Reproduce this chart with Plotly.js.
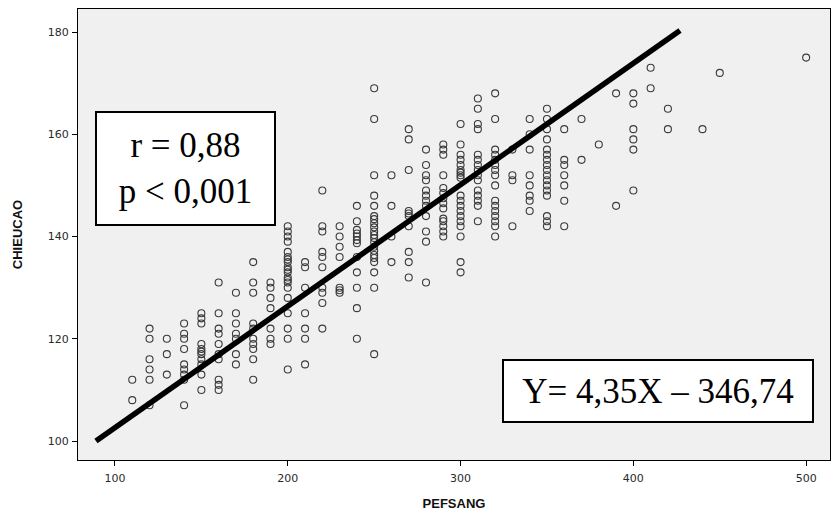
<!DOCTYPE html>
<html>
<head>
<meta charset="utf-8">
<script src="https://cdn.plot.ly/plotly-3.0.1.min.js"></script>
<style>
  html, body { margin: 0; padding: 0; background: #ffffff; }
  #chart { width: 833px; height: 513px; }
</style>
</head>
<body>
<div id="chart"></div>
<script>
// PEF columns (x) and the CHIEUCAO values read at each column
const pefLevels = [110, 120, 130, 140, 150, 160, 170, 180, 190, 200, 210, 220, 230, 240, 250, 260, 270, 280, 290, 300, 310, 320, 330, 340, 350, 360, 370, 380, 390, 400, 410, 420, 440, 450, 500];
const heightsByPef = [
  [112, 108],
  [122, 120, 116, 114, 112, 107],
  [120, 117, 113],
  [123, 121, 120, 118, 115, 114, 113, 112, 107],
  [125, 124, 123, 119, 118, 117.5, 117, 116, 115, 113, 110],
  [131, 125, 122, 121, 119, 117, 116, 112, 111, 110],
  [129, 125, 123, 121, 120, 117, 115],
  [135, 131, 129, 123, 122, 120, 119, 118, 116, 112],
  [131, 130, 128, 126, 122, 120, 119],
  [142, 141, 140, 139, 137, 136, 135.5, 135, 134, 133.5, 133, 132, 131.5, 131, 130, 128, 125, 122, 120, 114],
  [135, 134, 130, 125, 122, 120, 115],
  [149, 142, 141, 137, 136, 134, 130, 129, 127, 122],
  [142, 140, 138, 136, 130, 129.5, 129],
  [146, 143, 141.3, 140.6, 140, 139.3, 138.7, 136, 133, 130, 126, 120],
  [169, 163, 152, 148, 146, 144, 143.4, 142.6, 141.8, 141, 140.3, 139.7, 138.9, 138, 137.2, 136.4, 135.8, 135, 133, 130, 117],
  [152, 146, 140, 135],
  [161, 159, 153, 145, 144.5, 144, 142, 137, 135, 132],
  [157, 154, 152, 151, 149, 148, 147, 146, 144, 141, 139, 131],
  [158, 157, 156, 152, 149.5, 148.5, 147.5, 146.5, 145.5, 143.5, 143, 142, 141, 140],
  [162, 158, 156, 155, 154, 153, 152.5, 152, 151.5, 148, 147, 146, 145, 144, 143, 142, 140, 135, 133],
  [167, 165, 162, 161, 156, 155, 154, 153, 152, 151, 149, 148, 147, 146, 143],
  [168, 163, 157, 156, 155, 154, 153, 152, 150, 147, 146, 145, 144, 143, 142, 140],
  [157, 152, 151, 142],
  [163, 160, 157, 152, 150, 148, 147, 145],
  [165, 163, 161, 159, 157, 156, 155, 154, 153, 152, 151, 150, 149, 148, 144, 143, 142],
  [161, 155, 154, 152, 150, 147, 142],
  [163, 155],
  [158],
  [168, 146],
  [168, 166, 161, 159, 157, 149],
  [173, 169],
  [165, 161],
  [161],
  [172],
  [175]
];

// Fit line end points
const fitPef = [89, 427];
const fitHeight = [100, 180.3];

const xTicks = [100, 200, 300, 400, 500];
const yTicks = [100, 120, 140, 160, 180];

const statText = "r = 0,88<br>p &lt; 0,001";
const eqText = "Y= 4,35X \u2013 346,74";

const xs = [], ys = [];
pefLevels.forEach((p, i) => {
  heightsByPef[i].forEach(h => { xs.push(p); ys.push(h); });
});

const traces = [
  {
    type: 'scatter', mode: 'markers', x: xs, y: ys,
    marker: { symbol: 'circle-open', size: 7, color: '#3a3a3a', line: { width: 1.1, color: '#3a3a3a' } },
    hoverinfo: 'x+y', showlegend: false
  },
  {
    type: 'scatter', mode: 'lines', x: fitPef, y: fitHeight,
    line: { color: '#000000', width: 5.5 },
    showlegend: false, hoverinfo: 'skip'
  }
];

const axisFont = { family: 'DejaVu Sans, Verdana, sans-serif', size: 11, color: '#2a2a2a' };
const titleFont = { family: 'Liberation Sans, Arial, sans-serif', size: 13, color: '#111111' };

const layout = {
  width: 833, height: 513,
  margin: { l: 78, r: 3, t: 9, b: 53 },
  paper_bgcolor: '#ffffff',
  plot_bgcolor: '#f0f0f0',
  showlegend: false,
  xaxis: {
    range: [78.6, 513.8],
    tickvals: xTicks, ticktext: xTicks.map(String),
    ticks: 'outside', ticklen: 5, tickwidth: 1, tickcolor: '#000',
    ticklabelstandoff: 3,
    showline: true, linecolor: '#000', linewidth: 1, mirror: true,
    showgrid: false, zeroline: false,
    tickfont: axisFont,
    title: { text: '<b>PEFSANG</b>', font: titleFont, standoff: 14 }
  },
  yaxis: {
    range: [96.3, 184.5],
    tickvals: yTicks, ticktext: yTicks.map(String),
    ticks: 'outside', ticklen: 5, tickwidth: 1, tickcolor: '#000',
    ticklabelstandoff: 1,
    showline: true, linecolor: '#000', linewidth: 1, mirror: true,
    showgrid: false, zeroline: false,
    tickfont: axisFont,
    title: { text: '<b>CHIEUCAO</b>', font: titleFont, standoff: 22 }
  },
  annotations: [
    {
      xref: 'paper', yref: 'paper', x: 0.143, y: 0.6463, xanchor: 'center', yanchor: 'middle',
      text: statText, showarrow: false, align: 'center',
      font: { family: 'Liberation Serif, Times New Roman, serif', size: 35, color: '#000' },
      bgcolor: '#ffffff', bordercolor: '#000000', borderwidth: 2, borderpad: 2,
      width: 173, height: 107
    },
    {
      xref: 'paper', yref: 'paper', x: 0.7713, y: 0.153, xanchor: 'center', yanchor: 'middle',
      text: eqText, showarrow: false, align: 'center',
      font: { family: 'Liberation Serif, Times New Roman, serif', size: 35, color: '#000' },
      bgcolor: '#ffffff', bordercolor: '#000000', borderwidth: 2, borderpad: 2,
      width: 304, height: 56
    }
  ]
};

Plotly.newPlot('chart', traces, layout, { displayModeBar: false, staticPlot: true });
</script>
</body>
</html>
